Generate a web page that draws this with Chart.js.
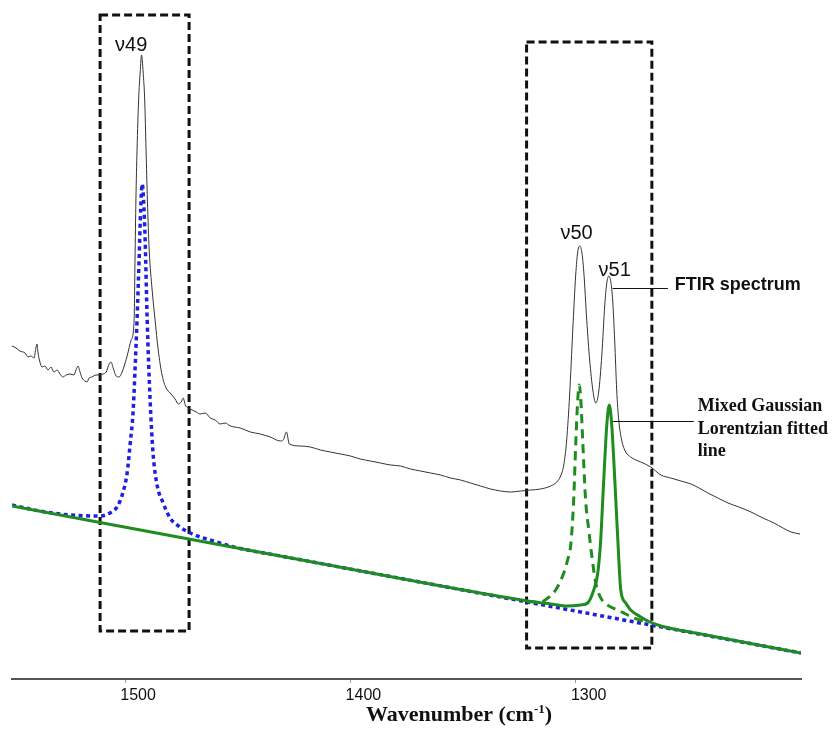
<!DOCTYPE html>
<html><head><meta charset="utf-8">
<script src="https://cdn.jsdelivr.net/npm/chart.js@4.4.0/dist/chart.umd.min.js"></script>
<style>html,body{margin:0;padding:0;background:#fff}#wrap{width:833px;height:745px}</style>
</head><body><div id="wrap"><canvas id="c" width="833" height="745"></canvas></div>
<script>
// ---- data (wavenumber in cm-1, intensity in arbitrary units) ----
const tickValues = [1500, 1400, 1300];

const ftirWavenumber = [1550.2,1548.4,1546.7,1544.4,1543.1,1541.8,1540.4,1539.6,1539.1,1538.7,1537.8,1536.9,1535.6,1534.2,1532.9,1531.6,1530.2,1528.9,1527.6,1526.2,1524.4,1522.7,1521.8,1520.9,1520.0,1519.1,1517.8,1516.9,1516.0,1514.7,1512.9,1511.1,1509.8,1508.4,1507.1,1506.2,1505.3,1504.0,1502.7,1501.3,1500.4,1499.1,1497.3,1496.0,1495.6,1495.2,1494.7,1494.0,1493.3,1492.7,1492.0,1491.3,1490.7,1490.1,1489.3,1488.0,1486.7,1485.3,1483.6,1481.8,1480.0,1477.8,1476.4,1475.1,1474.2,1473.3,1472.0,1470.2,1468.4,1466.7,1464.4,1462.2,1460.0,1457.8,1455.6,1453.3,1448.9,1444.4,1440.0,1435.6,1431.1,1429.8,1428.4,1427.1,1422.2,1417.8,1413.3,1408.9,1404.4,1400.0,1395.6,1391.1,1386.7,1382.2,1377.8,1373.3,1368.9,1364.4,1360.0,1355.6,1351.1,1346.7,1342.2,1337.8,1333.3,1328.9,1324.4,1320.0,1315.6,1311.1,1308.4,1306.7,1305.3,1304.0,1302.7,1301.3,1300.0,1299.1,1298.2,1297.3,1296.4,1295.1,1293.8,1292.4,1291.1,1289.8,1288.4,1287.1,1286.2,1285.3,1284.4,1283.6,1282.7,1281.8,1280.9,1279.6,1277.8,1275.6,1273.3,1271.1,1266.7,1262.2,1257.8,1253.3,1248.9,1244.4,1241.3,1236.9,1232.4,1227.6,1222.2,1216.9,1212.0,1208.0,1204.4,1200.4];
const ftirIntensity = [333,331,328,326,322,323,321,331,335,327,317,312,313,309,312,307,309,305,302,304,305,304,309,313,307,301,298,297,301,302,304,304,305,307,315,317,311,303,302,307,313,323,339,359,419,479,529,579,607,624,607,579,529,479,429,389,359,329,304,291,286,280,275,277,281,274,271,269,267,265,266,261,259,255,256,253,251,247,245,242,238,239,247,235,233,232,229,227,225,223,220,218,216,214,213,210,208,206,204,201,199,196,193,190,188,187,188,189,190,193,197,203,214,239,284,349,404,427,433,427,407,359,319,289,276,287,324,374,396,403,397,379,339,289,259,239,227,222,219,217,212,204,201,198,195,190,186,181,176,172,167,161,156,151,147,145];

const fitBlueWavenumber = [1550.2,1537.8,1524.4,1511.1,1506.7,1503.6,1501.3,1499.1,1497.8,1496.4,1495.6,1494.7,1493.8,1493.1,1492.4,1491.8,1491.1,1490.2,1488.9,1487.6,1485.8,1483.1,1480.0,1475.6,1471.1,1460.9,1448.9,1435.6,1377.8,1288.9,1200.0];
const fitBlueIntensity = [174,168,164,163,166,172,184,206,234,269,309,359,419,469,495,479,439,359,279,226,194,176,161,152,146,138,130.5,124.9,100.6,63.3,26];

const fitGreenWavenumber = [1550.2,1422.2,1321.3,1311.1,1303.6,1297.8,1294.7,1292.0,1290.2,1288.9,1288.0,1287.1,1286.2,1285.1,1284.0,1283.1,1282.2,1281.3,1280.0,1277.8,1275.6,1271.1,1268.0,1262.2,1244.4,1200.0];
const fitGreenIntensity = [173,119.3,78,75,73,74,76,89,106,139,179,219,254,274,254,219,179,139,89,76,69,62,58,53,45,26];

const fitDashedWavenumber = [1321.3,1315.6,1312.4,1308.9,1305.3,1303.6,1302.2,1300.9,1300.0,1299.1,1298.4,1297.8,1296.9,1295.6,1294.2,1292.9,1291.1,1289.3,1287.6,1284.4,1281.3,1277.8,1274.2,1268.0];
const fitDashedIntensity = [77.5,77,81,89,106,119,134,179,234,279,294,282,239,179,149,124,96,83,77,72,69,65,61,56.5];

const peakLabels = ['\u03BD49', '\u03BD50', '\u03BD51'];
const legendTexts = ['FTIR spectrum', ['Mixed Gaussian', 'Lorentzian fitted', 'line']];

const pts = (xs, ys) => xs.map((v, i) => ({x: v, y: ys[i]}));

// ---- annotations (positions in data coordinates) ----
const boxes = [
  {x0: 1511.1, x1: 1471.6, y0: 48, y1: 664},
  {x0: 1321.8, x1: 1266.2, y0: 31, y1: 637}
];
const peakLabelPos = [[1497.3, 634], [1299.6, 446], [1282.7, 409]];

const annot = {
  id: 'annot',
  beforeDatasetsDraw(chart) {
    const {ctx, scales: {x, y}} = chart;
    ctx.save();
    ctx.strokeStyle = '#111';
    ctx.lineWidth = 3;
    ctx.setLineDash([8, 4]);
    for (const b of boxes) {
      const x1 = x.getPixelForValue(b.x0), x2 = x.getPixelForValue(b.x1);
      const y1 = y.getPixelForValue(b.y0), y2 = y.getPixelForValue(b.y1);
      ctx.strokeRect(Math.min(x1, x2), Math.min(y1, y2), Math.abs(x2 - x1), Math.abs(y2 - y1));
    }
    ctx.restore();
  },
  afterDatasetsDraw(chart) {
    const {ctx, scales: {x, y}} = chart;
    ctx.save();
    ctx.fillStyle = '#111';
    ctx.textBaseline = 'middle';
    ctx.textAlign = 'center';
    ctx.font = '20px "Liberation Sans", Arial, sans-serif';
    peakLabels.forEach((t, i) => {
      ctx.fillText(t, x.getPixelForValue(peakLabelPos[i][0]), y.getPixelForValue(peakLabelPos[i][1]));
    });
    // leader lines
    ctx.strokeStyle = '#111';
    ctx.lineWidth = 1.2;
    const lead = (w0, w1, v) => {
      const py = Math.round(y.getPixelForValue(v)) + 0.5;
      ctx.beginPath();
      ctx.moveTo(x.getPixelForValue(w0), py);
      ctx.lineTo(x.getPixelForValue(w1), py);
      ctx.stroke();
    };
    lead(1283.6, 1259.1, 391);
    lead(1283.6, 1247.6, 258);
    ctx.textAlign = 'left';
    ctx.font = 'bold 18px "Liberation Sans", Arial, sans-serif';
    ctx.fillText(legendTexts[0], x.getPixelForValue(1256.0), y.getPixelForValue(394));
    ctx.font = 'bold 18px "Liberation Serif", "Times New Roman", serif';
    const lx = x.getPixelForValue(1245.8);
    legendTexts[1].forEach((t, i) => {
      ctx.fillText(t, lx, y.getPixelForValue(272.5) + i * 22.5);
    });
    ctx.restore();
  },
  afterDraw(chart) {
    const {ctx} = chart;
    ctx.save();
    ctx.fillStyle = '#111';
    ctx.textBaseline = 'alphabetic';
    const main = 'Wavenumber (cm', sup = '-1', end = ')';
    const fMain = 'bold 22px "Liberation Serif", "Times New Roman", serif';
    const fSup = 'bold 13px "Liberation Serif", "Times New Roman", serif';
    ctx.font = fMain;
    const w1 = ctx.measureText(main).width, w3 = ctx.measureText(end).width;
    ctx.font = fSup;
    const w2 = ctx.measureText(sup).width;
    const total = w1 + w2 + w3;
    const cx = 459, base = 721;
    let sx = cx - total / 2;
    ctx.font = fMain; ctx.fillText(main, sx, base); sx += w1;
    ctx.font = fSup; ctx.fillText(sup, sx, base - 8); sx += w2;
    ctx.font = fMain; ctx.fillText(end, sx, base);
    ctx.restore();
  }
};

new Chart(document.getElementById('c'), {
  type: 'line',
  data: {
    datasets: [
      {label: 'FTIR spectrum', data: pts(ftirWavenumber, ftirIntensity), borderColor: '#333', borderWidth: 1, pointRadius: 0, cubicInterpolationMode: 'monotone'},
      {label: 'Fit v51', data: pts(fitGreenWavenumber, fitGreenIntensity), borderColor: '#1e8c1e', borderWidth: 3, pointRadius: 0, cubicInterpolationMode: 'monotone'},
      {label: 'Fit v50', data: pts(fitDashedWavenumber, fitDashedIntensity), borderColor: '#1e8c1e', borderWidth: 3, borderDash: [9, 6], pointRadius: 0, cubicInterpolationMode: 'monotone'},
      {label: 'Fit v49', data: pts(fitBlueWavenumber, fitBlueIntensity), borderColor: '#1f1fe0', borderWidth: 3.5, borderDash: [4, 3.5], borderCapStyle: 'butt', pointRadius: 0, cubicInterpolationMode: 'monotone'}
    ]
  },
  options: {
    responsive: false,
    animation: false,
    devicePixelRatio: 1,
    layout: {padding: {top: 9, left: 12, right: 32, bottom: 0}},
    plugins: {legend: {display: false}, tooltip: {enabled: false}},
    scales: {
      x: {
        type: 'linear', reverse: true, min: 1200, max: 1550.2,
        afterBuildTicks: s => { s.ticks = tickValues.map(v => ({value: v})); },
        afterFit: s => { s.height = 66; },
        border: {display: true, color: '#555', width: 2},
        grid: {drawOnChartArea: false, drawTicks: true, tickLength: 4, color: '#999', lineWidth: 1},
        ticks: {font: {family: '"Liberation Sans", Arial, sans-serif', size: 16}, color: '#111', padding: 3, labelOffset: 13, maxRotation: 0, autoSkip: false, callback: v => String(v)}
      },
      y: {display: false, min: 0, max: 670}
    }
  },
  plugins: [annot]
});
</script>
</body></html>
